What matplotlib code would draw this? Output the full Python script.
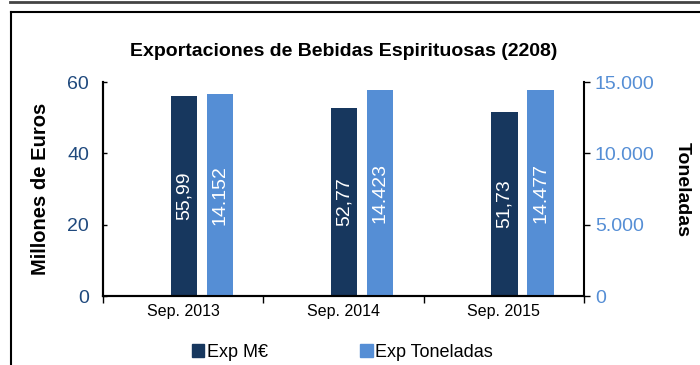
import numpy as np
import matplotlib.pyplot as plt
from matplotlib.lines import Line2D
from matplotlib.patches import Patch

plt.rcParams['font.family'] = ['Liberation Sans', 'DejaVu Sans']

categories = ['Sep. 2013', 'Sep. 2014', 'Sep. 2015']
exp_meur = [55.99, 52.77, 51.73]
exp_ton = [14152, 14423, 14477]
left_ticks = [0, 20, 40, 60]
right_ticks = [0, 5000, 10000, 15000]

DARK = '#17375E'
LIGHT = '#558ED5'
LEFT_TXT = '#1F497D'


def fmt_es(v, dec=0):
    s = f"{v:,.{dec}f}"
    return s.replace(',', 'X').replace('.', ',').replace('X', '.')


fig = plt.figure(figsize=(7, 3.65), dpi=100)
ax = fig.add_axes([0.147, 0.189, 0.687, 0.586])
ax2 = ax.twinx()

x = np.arange(len(categories))
w = 0.163
b1 = ax.bar(x + 0.005, exp_meur, w, color=DARK, zorder=2)
b2 = ax2.bar(x + 0.23, exp_ton, w, color=LIGHT, zorder=2)

for r, v in zip(b1, exp_meur):
    ax.text(r.get_x() + r.get_width() / 2, v / 2, fmt_es(v, 2), rotation=90,
            ha='center', va='center', color='white', fontsize=14)
for r, v in zip(b2, exp_ton):
    ax2.text(r.get_x() + r.get_width() / 2, v / 2, fmt_es(v), rotation=90,
             ha='center', va='center', color='white', fontsize=14)

ax.set_xlim(-0.5, len(categories) - 0.5)
ax.set_ylim(0, 60)
ax2.set_ylim(0, 15000)

ax.set_yticks(left_ticks)
ax.set_yticklabels([str(t) for t in left_ticks], color=LEFT_TXT, fontsize=14)
ax2.set_yticks(right_ticks)
ax2.set_yticklabels([fmt_es(t) for t in right_ticks], color=LIGHT, fontsize=14)

ax.set_xticks(x)
ax.set_xticklabels(categories, fontsize=11.5)
ax.set_xticks(np.arange(len(categories) + 1) - 0.5, minor=True)
ax.tick_params(axis='x', which='major', length=0, pad=6)
ax.tick_params(axis='x', which='minor', length=5, width=1, direction='out')
ax.tick_params(axis='y', direction='in', length=3, width=1, pad=10)
ax2.tick_params(axis='y', direction='out', length=4, width=1, pad=4)

for a in (ax, ax2):
    a.spines['top'].set_visible(False)
    for s in ('left', 'right', 'bottom'):
        a.spines[s].set_linewidth(1.5)
ax.spines['right'].set_visible(False)

ax.set_ylabel('Millones de Euros', fontsize=14.5, fontweight='bold', labelpad=12)
ax2.set_ylabel('Toneladas', fontsize=14, fontweight='bold', rotation=-90, labelpad=26)
ax.set_title('Exportaciones de Bebidas Espirituosas (2208)', fontsize=14,
             fontweight='bold', pad=19)

handles = [Patch(color=DARK, label='Exp M€'), Patch(color=LIGHT, label='Exp Toneladas')]
fig.legend(handles=handles, loc='center', bbox_to_anchor=(0.489, 0.035), ncol=2,
           frameon=False, fontsize=13, handlelength=0.7, handleheight=0.8,
           handletextpad=0.15, columnspacing=5.1)

# outer frame lines
fig.add_artist(Line2D([10 / 700, 1], [1 - 1.5 / 365] * 2, color='#444444', lw=2))
fig.add_artist(Line2D([11 / 700, 1], [1 - 12 / 365] * 2, color='black', lw=1.5))
fig.add_artist(Line2D([11 / 700] * 2, [0, 1 - 12 / 365], color='black', lw=1.5))

fig.savefig('out.png', dpi=100)
